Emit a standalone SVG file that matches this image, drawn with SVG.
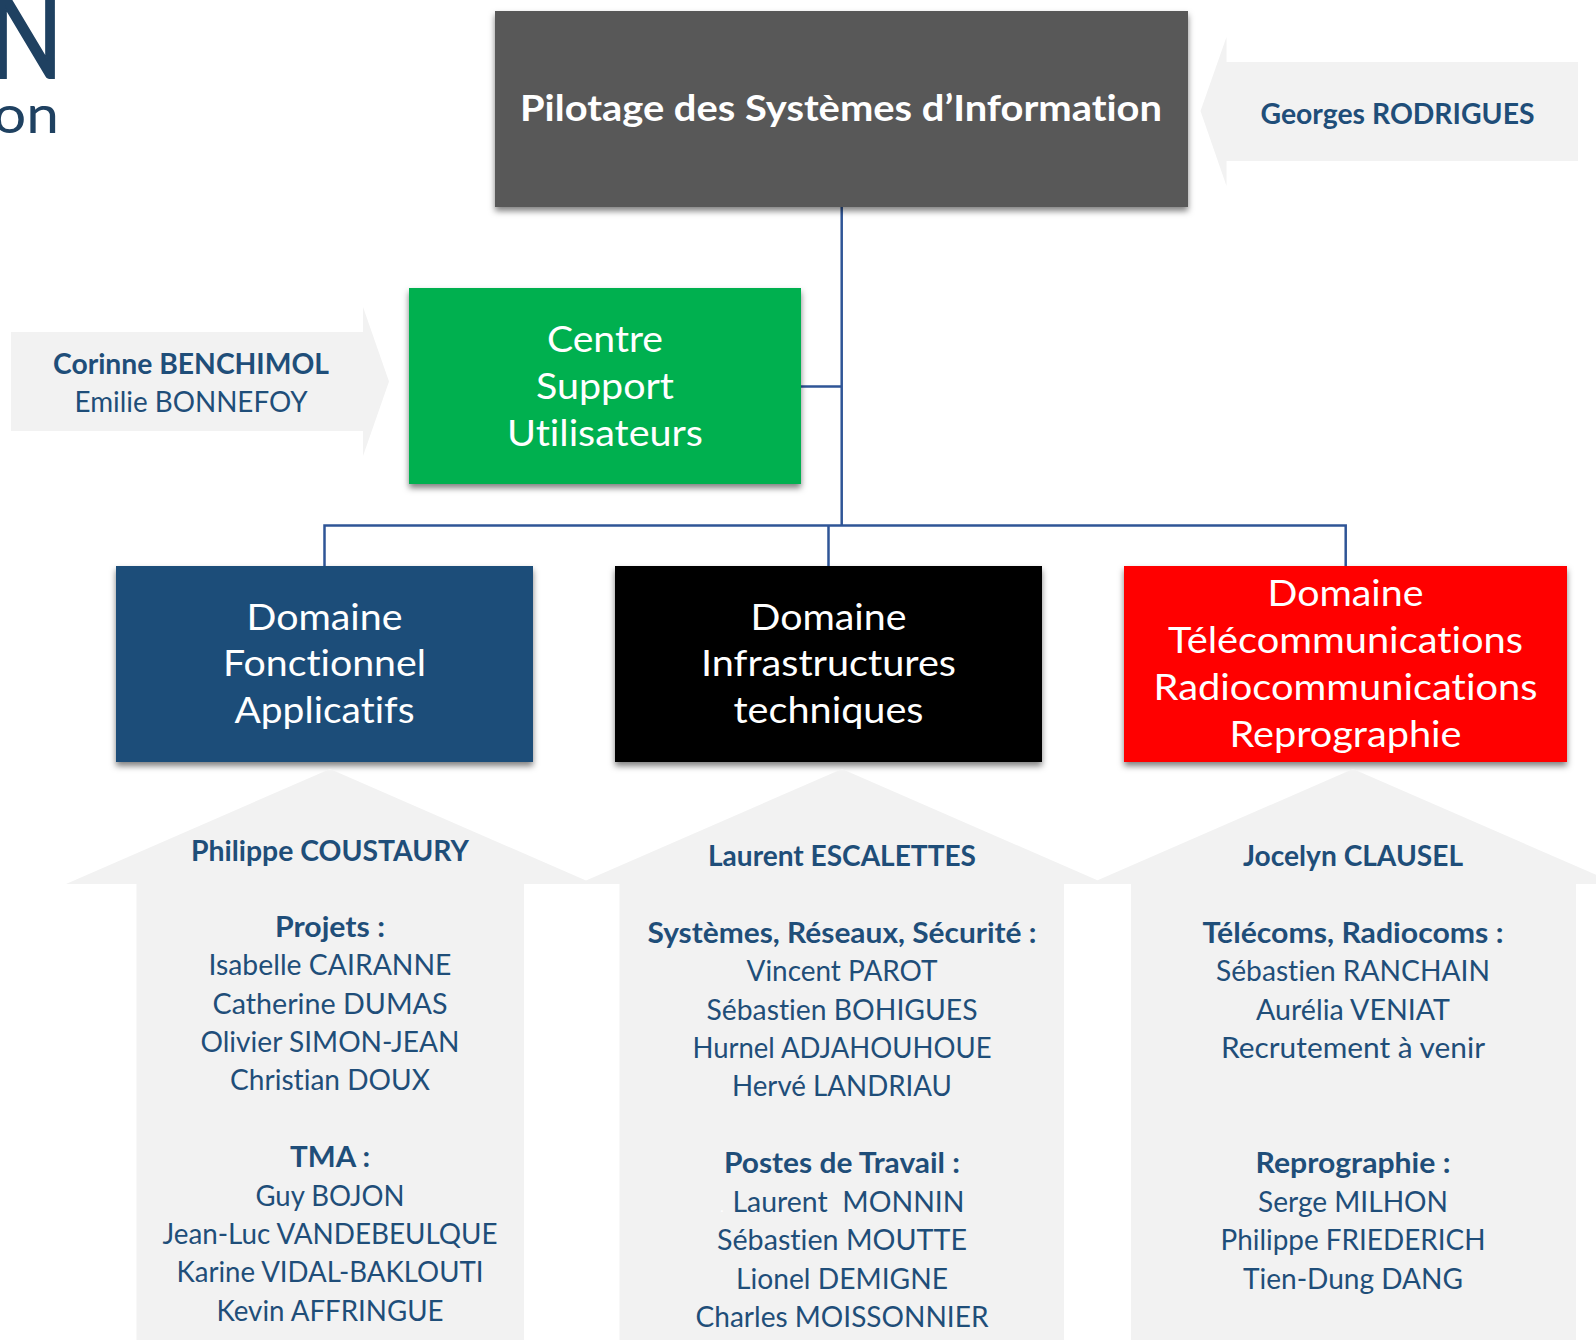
<svg xmlns="http://www.w3.org/2000/svg" width="1596" height="1340" viewBox="0 0 1596 1340">
<style>
text{font-family:Lato,"Liberation Sans",sans-serif;text-anchor:middle;font-variant-ligatures:none}
.n{font-size:28.5px;fill:#1f4e79}
.b{font-size:28.5px;fill:#1f4e79;font-weight:700}
.w{font-size:37.5px;fill:#fff}
.t{font-size:36px;fill:#fff;font-weight:700}
.a{fill:#f2f2f2}
.box{filter:url(#sh)}
.c{fill:none;stroke:#2f5597;stroke-width:2.5}
.logo{fill:#1f4161;text-anchor:start}
</style>
<defs><filter id="sh" x="-5%" y="-5%" width="110%" height="115%"><feDropShadow dx="0" dy="4" stdDeviation="3" flood-color="#000" flood-opacity="0.5"/></filter></defs>
<rect width="1596" height="1340" fill="#fff"/>
<g id="logo">
<text class="logo" transform="translate(-11,78) scale(1,1.25)" font-size="100" stroke="#1f4161" stroke-width="1.5" textLength="74" lengthAdjust="spacingAndGlyphs">N</text>
<text class="logo" x="-7" y="133" font-size="52" textLength="66" lengthAdjust="spacingAndGlyphs">on</text>
</g>
<g id="connectors">
<path class="c" d="M841.7 207V525.5M801 386.5H841.7M324.5 566V525.5H1345.7V566M828.5 525.5V566"/>
</g>
<g id="node-pilotage">
<rect class="box" x="495" y="11" width="693" height="196" fill="#595959"/>
<text class="t" x="841" y="121" textLength="642" lengthAdjust="spacingAndGlyphs">Pilotage des Systèmes d’Information</text>
</g>
<g id="note-georges">
<polygon class="a" points="1200.5,111 1226.5,37 1226.5,62 1578,62 1578,161 1226.5,161 1226.5,186"/>
<text class="b" x="1397.5" y="123.5" textLength="274" lengthAdjust="spacingAndGlyphs">Georges RODRIGUES</text>
</g>
<g id="node-csu">
<rect class="box" x="409" y="288" width="392" height="196" fill="#00b050"/>
<text class="w" x="605" y="352" textLength="116" lengthAdjust="spacingAndGlyphs">Centre</text>
<text class="w" x="605" y="399" textLength="138" lengthAdjust="spacingAndGlyphs">Support</text>
<text class="w" x="605" y="445.5" textLength="196" lengthAdjust="spacingAndGlyphs">Utilisateurs</text>
</g>
<g id="note-corinne">
<polygon class="a" points="11,332 363,332 363,307 389,381.5 363,456 363,431 11,431"/>
<text class="b" x="191" y="374" textLength="276" lengthAdjust="spacingAndGlyphs">Corinne BENCHIMOL</text>
<text class="n" x="191" y="412" textLength="233" lengthAdjust="spacingAndGlyphs">Emilie BONNEFOY</text>
</g>
<g id="node-fonctionnel">
<rect class="box" x="116" y="566" width="417" height="196" fill="#1f4e79"/>
<text class="w" x="324.5" y="630" textLength="156" lengthAdjust="spacingAndGlyphs">Domaine</text>
<text class="w" x="324.5" y="676" textLength="203" lengthAdjust="spacingAndGlyphs">Fonctionnel</text>
<text class="w" x="324.5" y="723" textLength="180" lengthAdjust="spacingAndGlyphs">Applicatifs</text>
</g>
<g id="node-infrastructures">
<rect class="box" x="615" y="566" width="427" height="196" fill="#000"/>
<text class="w" x="828.5" y="630" textLength="156" lengthAdjust="spacingAndGlyphs">Domaine</text>
<text class="w" x="828.5" y="676" textLength="255" lengthAdjust="spacingAndGlyphs">Infrastructures</text>
<text class="w" x="828.5" y="723" textLength="190" lengthAdjust="spacingAndGlyphs">techniques</text>
</g>
<g id="node-telecom">
<rect class="box" x="1124" y="566" width="443" height="196" fill="#f00"/>
<text class="w" x="1345.5" y="606" textLength="156" lengthAdjust="spacingAndGlyphs">Domaine</text>
<text class="w" x="1345.5" y="652.5" textLength="355" lengthAdjust="spacingAndGlyphs">Télécommunications</text>
<text class="w" x="1345.5" y="700" textLength="384" lengthAdjust="spacingAndGlyphs">Radiocommunications</text>
<text class="w" x="1345.5" y="746.5" textLength="232" lengthAdjust="spacingAndGlyphs">Reprographie</text>
</g>
<g id="team-fonctionnel">
<polygon class="a" points="330,769 594,884 524,884 524,1340 136.5,1340 136.5,884 66,884"/>
<text class="b" x="330" y="860.5" textLength="278" lengthAdjust="spacingAndGlyphs">Philippe COUSTAURY</text>
<text class="b" x="330" y="937" textLength="110" lengthAdjust="spacingAndGlyphs">Projets :</text>
<text class="n" x="330" y="975" textLength="243" lengthAdjust="spacingAndGlyphs">Isabelle CAIRANNE</text>
<text class="n" x="330" y="1013.5" textLength="235" lengthAdjust="spacingAndGlyphs">Catherine DUMAS</text>
<text class="n" x="330" y="1052" textLength="259" lengthAdjust="spacingAndGlyphs">Olivier SIMON-JEAN</text>
<text class="n" x="330" y="1090" textLength="200" lengthAdjust="spacingAndGlyphs">Christian DOUX</text>
<text class="b" x="330" y="1167" textLength="80" lengthAdjust="spacingAndGlyphs">TMA :</text>
<text class="n" x="330" y="1206" textLength="149" lengthAdjust="spacingAndGlyphs">Guy BOJON</text>
<text class="n" x="330" y="1244" textLength="335" lengthAdjust="spacingAndGlyphs">Jean-Luc VANDEBEULQUE</text>
<text class="n" x="330" y="1282" textLength="307" lengthAdjust="spacingAndGlyphs">Karine VIDAL-BAKLOUTI</text>
<text class="n" x="330" y="1320.5" textLength="227" lengthAdjust="spacingAndGlyphs">Kevin AFFRINGUE</text>
</g>
<g id="team-infrastructures">
<polygon class="a" points="842,769 1106,884 1064,884 1064,1340 619.5,1340 619.5,884 578,884"/>
<text class="b" x="842" y="866" textLength="268" lengthAdjust="spacingAndGlyphs">Laurent ESCALETTES</text>
<text class="b" x="842" y="943" textLength="389" lengthAdjust="spacingAndGlyphs">Systèmes, Réseaux, Sécurité :</text>
<text class="n" x="842" y="981" textLength="191" lengthAdjust="spacingAndGlyphs">Vincent PAROT</text>
<text class="n" x="842" y="1020" textLength="271" lengthAdjust="spacingAndGlyphs">Sébastien BOHIGUES</text>
<text class="n" x="842" y="1058" textLength="299" lengthAdjust="spacingAndGlyphs">Hurnel ADJAHOUHOUE</text>
<text class="n" x="842" y="1096" textLength="220" lengthAdjust="spacingAndGlyphs">Hervé LANDRIAU</text>
<text class="b" x="842" y="1173" textLength="236" lengthAdjust="spacingAndGlyphs">Postes de Travail :</text>
<text x="722" y="1211.5" font-size="14" fill="#fff">.</text>
<text class="n" x="848.5" y="1211.5" xml:space="preserve" textLength="232" lengthAdjust="spacingAndGlyphs">Laurent  MONNIN</text>
<text class="n" x="842" y="1250" textLength="250" lengthAdjust="spacingAndGlyphs">Sébastien MOUTTE</text>
<text class="n" x="842" y="1289" textLength="212" lengthAdjust="spacingAndGlyphs">Lionel DEMIGNE</text>
<text class="n" x="842" y="1327" textLength="293" lengthAdjust="spacingAndGlyphs">Charles MOISSONNIER</text>
</g>
<g id="team-telecom">
<polygon class="a" points="1353,769 1617,884 1576,884 1576,1340 1131,1340 1131,884 1089,884"/>
<text class="b" x="1353" y="866" textLength="220" lengthAdjust="spacingAndGlyphs">Jocelyn CLAUSEL</text>
<text class="b" x="1353" y="943" textLength="301" lengthAdjust="spacingAndGlyphs">Télécoms, Radiocoms :</text>
<text class="n" x="1353" y="981" textLength="274" lengthAdjust="spacingAndGlyphs">Sébastien RANCHAIN</text>
<text class="n" x="1353" y="1020" textLength="194" lengthAdjust="spacingAndGlyphs">Aurélia VENIAT</text>
<text class="n" x="1353" y="1058" textLength="264" lengthAdjust="spacingAndGlyphs">Recrutement à venir</text>
<text class="b" x="1353" y="1173" textLength="195" lengthAdjust="spacingAndGlyphs">Reprographie :</text>
<text class="n" x="1353" y="1211.5" textLength="190" lengthAdjust="spacingAndGlyphs">Serge MILHON</text>
<text class="n" x="1353" y="1250" textLength="265" lengthAdjust="spacingAndGlyphs">Philippe FRIEDERICH</text>
<text class="n" x="1353" y="1289" textLength="220" lengthAdjust="spacingAndGlyphs">Tien-Dung DANG</text>
</g>
</svg>
